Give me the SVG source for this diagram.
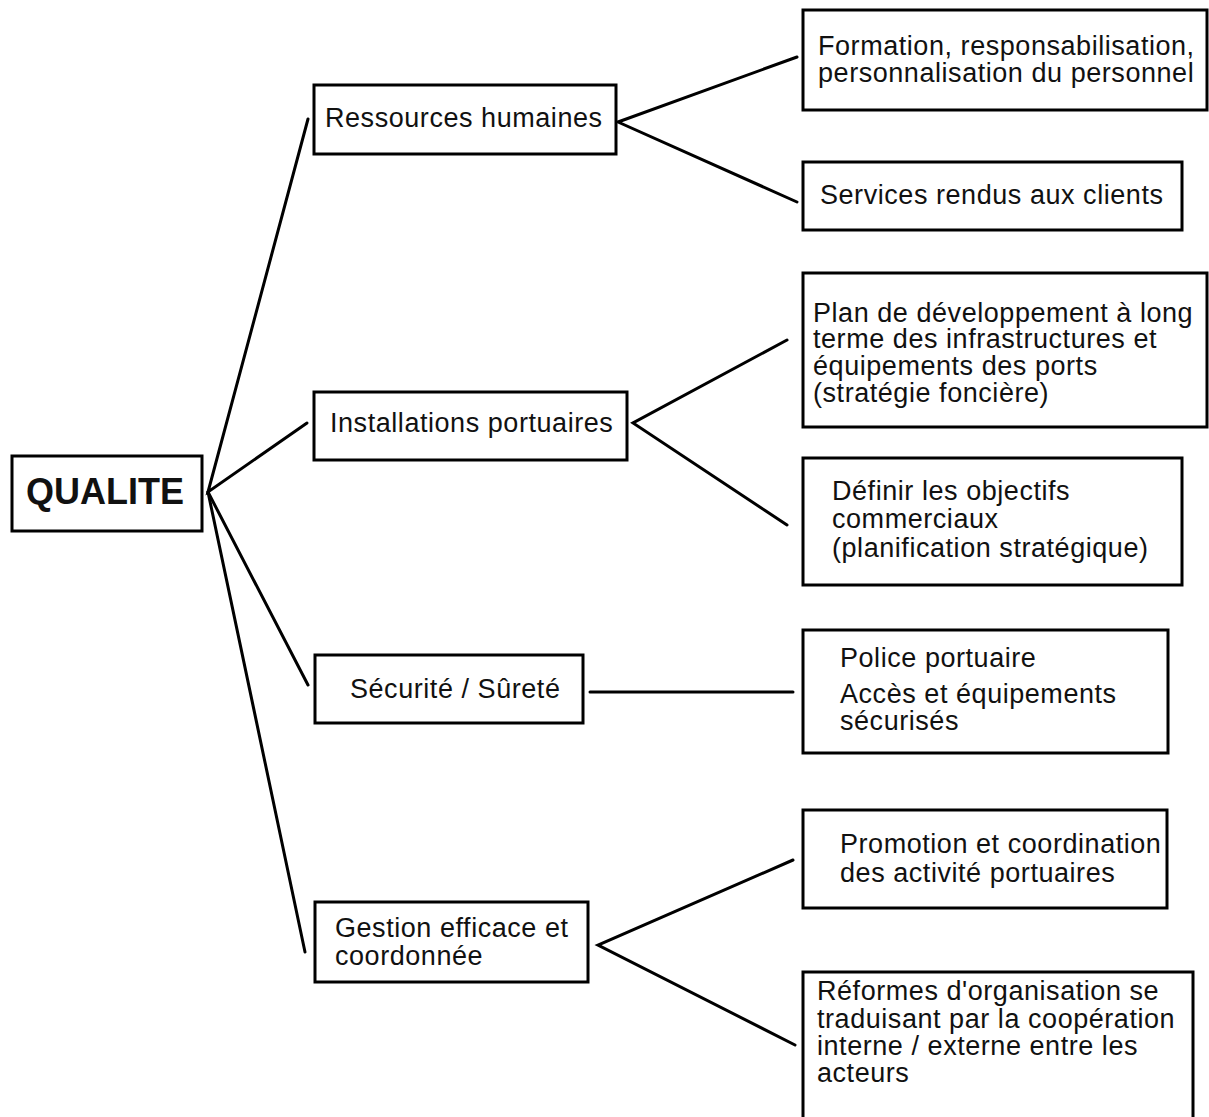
<svg xmlns="http://www.w3.org/2000/svg" width="1209" height="1117" viewBox="0 0 1209 1117">
  <style>
    .box { fill: #ffffff; stroke: #000000; stroke-width: 3; }
    .link { fill: none; stroke: #000000; stroke-width: 3; stroke-linecap: round; stroke-linejoin: miter; }
    .t { font-family: "Liberation Sans", Arial, Helvetica, sans-serif; font-size: 27px; letter-spacing: 0.55px; fill: #111111; }
    .root { font-family: "Liberation Sans", Arial, Helvetica, sans-serif; font-size: 36px; font-weight: bold; fill: #111111; }
  </style>
  <rect width="1209" height="1117" fill="#ffffff"/>

  <!-- connectors -->
  <g id="connectors">
    <path class="link" d="M308,119 L208,492 L307,423"/>
    <path class="link" d="M208,492 L308,685"/>
    <path class="link" d="M208,492 L305,952"/>
    <path class="link" d="M797,57 L618,122 L797,202"/>
    <path class="link" d="M787,340 L633,423 L787,525"/>
    <path class="link" d="M590,692 L793,692"/>
    <path class="link" d="M793,860 L598,945 L795,1045"/>
  </g>

  <!-- root -->
  <g id="qualite">
    <rect class="box" x="12" y="456" width="190" height="75"/>
    <text class="root" x="26" y="504">QUALITE</text>
  </g>

  <!-- level 1 -->
  <g id="ressources-humaines">
    <rect class="box" x="314" y="85" width="302" height="69"/>
    <text class="t" x="325" y="127">Ressources humaines</text>
  </g>
  <g id="installations-portuaires">
    <rect class="box" x="314" y="392" width="313" height="68"/>
    <text class="t" x="330" y="432">Installations portuaires</text>
  </g>
  <g id="securite-surete">
    <rect class="box" x="315" y="655" width="268" height="68"/>
    <text class="t" x="350" y="698">Sécurité / Sûreté</text>
  </g>
  <g id="gestion">
    <rect class="box" x="315" y="902" width="273" height="80"/>
    <text class="t" x="335" y="937">Gestion efficace et</text>
    <text class="t" x="335" y="965">coordonnée</text>
  </g>

  <!-- level 2 -->
  <g id="formation">
    <rect class="box" x="803" y="10" width="404" height="100"/>
    <text class="t" x="818" y="55">Formation, responsabilisation,</text>
    <text class="t" x="818" y="82">personnalisation du personnel</text>
  </g>
  <g id="services-clients">
    <rect class="box" x="803" y="162" width="379" height="68"/>
    <text class="t" x="820" y="204">Services rendus aux clients</text>
  </g>
  <g id="plan-developpement">
    <rect class="box" x="803" y="273" width="404" height="154"/>
    <text class="t" x="813" y="322">Plan de développement à long</text>
    <text class="t" x="813" y="348">terme des infrastructures et</text>
    <text class="t" x="813" y="375">équipements des ports</text>
    <text class="t" x="813" y="402">(stratégie foncière)</text>
  </g>
  <g id="objectifs-commerciaux">
    <rect class="box" x="803" y="458" width="379" height="127"/>
    <text class="t" x="832" y="500">Définir les objectifs</text>
    <text class="t" x="832" y="528">commerciaux</text>
    <text class="t" x="832" y="557">(planification stratégique)</text>
  </g>
  <g id="police-portuaire">
    <rect class="box" x="803" y="630" width="365" height="123"/>
    <text class="t" x="840" y="667">Police portuaire</text>
    <text class="t" x="840" y="703">Accès et équipements</text>
    <text class="t" x="840" y="730">sécurisés</text>
  </g>
  <g id="promotion">
    <rect class="box" x="803" y="810" width="364" height="98"/>
    <text class="t" x="840" y="853">Promotion et coordination</text>
    <text class="t" x="840" y="882">des activité portuaires</text>
  </g>
  <g id="reformes">
    <rect class="box" x="803" y="972" width="390" height="160"/>
    <text class="t" x="817" y="1000">Réformes d'organisation se</text>
    <text class="t" x="817" y="1028">traduisant par la coopération</text>
    <text class="t" x="817" y="1055">interne / externe entre les</text>
    <text class="t" x="817" y="1082">acteurs</text>
  </g>
</svg>
